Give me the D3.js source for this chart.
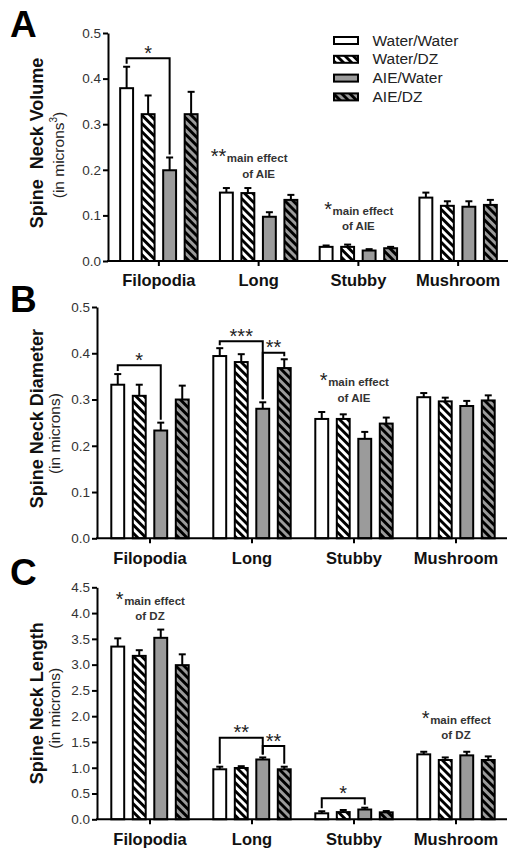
<!DOCTYPE html>
<html><head><meta charset="utf-8">
<script src="https://cdn.jsdelivr.net/npm/d3@7"></script>
<style>body{margin:0;background:#fff}svg{display:block;font-family:Arial,"Liberation Sans",Helvetica,sans-serif}</style>
</head><body><svg id="chart" width="522" height="860"></svg>
<script>
// ---------------- DATA ----------------
const categories = ["Filopodia", "Long", "Stubby", "Mushroom"];
const series = ["Water/Water", "Water/DZ", "AIE/Water", "AIE/DZ"];

// Panel A: spine neck volume (rows = categories, columns = series)
const volumeMean = [[0.379, 0.322, 0.199, 0.322], [0.150, 0.149, 0.097, 0.134], [0.031, 0.031, 0.023, 0.028], [0.139, 0.121, 0.119, 0.123]];
const volumeSem  = [[0.047, 0.041, 0.028, 0.049], [0.010, 0.011, 0.010, 0.011], [0.003, 0.005, 0.003, 0.003], [0.011, 0.010, 0.012, 0.011]];
// Panel B: spine neck diameter
const diameterMean = [[0.332, 0.308, 0.233, 0.300], [0.394, 0.381, 0.280, 0.368], [0.258, 0.258, 0.215, 0.248], [0.305, 0.296, 0.286, 0.298]];
const diameterSem  = [[0.023, 0.024, 0.017, 0.030], [0.017, 0.017, 0.014, 0.019], [0.015, 0.010, 0.015, 0.013], [0.009, 0.008, 0.011, 0.011]];
// Panel C: spine neck length
const lengthMean = [[3.35, 3.17, 3.52, 2.99], [0.97, 0.995, 1.16, 0.97], [0.116, 0.14, 0.19, 0.135], [1.26, 1.15, 1.24, 1.15]];
const lengthSem  = [[0.16, 0.11, 0.16, 0.21], [0.05, 0.035, 0.04, 0.05], [0.04, 0.04, 0.035, 0.025], [0.05, 0.05, 0.07, 0.07]];

const ticksAB = [0, 0.1, 0.2, 0.3, 0.4, 0.5];
const ticksC = [0, 0.5, 1.0, 1.5, 2.0, 2.5, 3.0, 3.5, 4.0, 4.5];

// significance brackets between two series within a category
const brackets = [
  {panel: "A", category: "Filopodia", from: 0, to: 2, y: 0.4445, stars: "*"},
  {panel: "B", category: "Filopodia", from: 0, to: 2, y: 0.374, stars: "*"},
  {panel: "B", category: "Long", from: 0, to: 2, y: 0.426, stars: "***"},
  {panel: "B", category: "Long", from: 2, to: 3, y: 0.401, stars: "**"},
  {panel: "C", category: "Long", from: 0, to: 2, y: 1.58, stars: "**"},
  {panel: "C", category: "Long", from: 2, to: 3, y: 1.42, stars: "**"},
  {panel: "C", category: "Stubby", from: 0, to: 2, y: 0.41, stars: "*"}
];
// main-effect notes
const mainEffects = [
  {panel: "A", category: "Long", stars: "**", factor: "AIE", y: 0.217},
  {panel: "A", category: "Stubby", stars: "*", factor: "AIE", y: 0.101},
  {panel: "B", category: "Stubby", stars: "*", factor: "AIE", y: 0.329},
  {panel: "C", category: "Filopodia", stars: "*", factor: "DZ", y: 4.16},
  {panel: "C", category: "Mushroom", stars: "*", factor: "DZ", y: 1.85}
];

// ---------------- DRAWING ----------------
const svg = d3.select("#chart");
const GRAY = "#9b9b9b";

const defs = svg.append("defs");
function hatch(id, bg) {
  const p = defs.append("pattern").attr("id", id).attr("patternUnits", "userSpaceOnUse")
    .attr("width", 5.8).attr("height", 5.8).attr("patternTransform", "rotate(-45)");
  p.append("rect").attr("width", 5.8).attr("height", 5.8).attr("fill", bg);
  p.append("rect").attr("width", 2.9).attr("height", 5.8).attr("fill", "#000");
}
hatch("hatchW", "#fff");
hatch("hatchG", GRAY);
const fills = ["#fff", "url(#hatchW)", GRAY, "url(#hatchG)"];

const panels = {
  A: {letter: "A", letterY: 37, top: 33, bottom: 261, axisX: 108, x0: 109, x1: 508, max: 0.5, ticks: ticksAB,
      mean: volumeMean, sem: volumeSem, title: "Spine  Neck Volume", sub: "(in microns", sup: "3", subX: 64, titleDy: -4, subDy: 8},
  B: {letter: "B", letterY: 312, top: 307, bottom: 538.3, axisX: 97, x0: 99, x1: 507, max: 0.5, ticks: ticksAB,
      mean: diameterMean, sem: diameterSem, title: "Spine Neck Diameter", sub: "(in microns)", sup: null, subX: 60, titleDy: -4, subDy: 11},
  C: {letter: "C", letterY: 585, top: 587.3, bottom: 819.3, axisX: 97, x0: 99, x1: 507, max: 4.5, ticks: ticksC,
      mean: lengthMean, sem: lengthSem, title: "Spine Neck Length", sub: "(in microns)", sup: null, subX: 60, titleDy: 0, subDy: 5}
};

Object.values(panels).forEach(P => {
  P.x = d3.scaleBand().domain(categories).range([P.x0, P.x1]).padding(0);
  P.xs = d3.scaleBand().domain(series).range([-43, 43]).paddingInner(0.4).paddingOuter(0.2);
  P.y = d3.scaleLinear().domain([0, P.max]).range([P.bottom, P.top]);
  const g = svg.append("g");
  const cx = c => P.x(c) + P.x.bandwidth() / 2;

  // bars
  categories.forEach((c, ci) => {
    series.forEach((s, si) => {
      const v = P.mean[ci][si], e = P.sem[ci][si];
      const bx = cx(c) + P.xs(s);
      const bw = P.xs.bandwidth();
      g.append("rect").attr("x", bx).attr("y", P.y(v)).attr("width", bw).attr("height", P.y(0) - P.y(v))
        .attr("fill", fills[si]).attr("stroke", "#000").attr("stroke-width", 2);
      const mx = bx + bw / 2;
      g.append("line").attr("x1", mx).attr("x2", mx).attr("y1", P.y(v)).attr("y2", P.y(v + e))
        .attr("stroke", "#000").attr("stroke-width", 2);
      g.append("line").attr("x1", mx - 3.5).attr("x2", mx + 3.5).attr("y1", P.y(v + e)).attr("y2", P.y(v + e))
        .attr("stroke", "#000").attr("stroke-width", 2);
    });
  });

  // y axis
  const ya = g.append("g").attr("transform", `translate(${P.axisX},0)`)
    .call(d3.axisLeft(P.y).tickValues(P.ticks).tickFormat(d3.format(".1f")).tickSize(5).tickSizeOuter(0).tickPadding(2));
  ya.select(".domain").attr("stroke-width", 2);
  ya.selectAll(".tick line").attr("stroke-width", 2);
  ya.selectAll(".tick text").attr("font-size", 13.5).attr("fill", "#333").attr("font-family", "Arial, 'Liberation Sans', sans-serif");

  // x axis
  const xa = g.append("g").attr("transform", `translate(0,${P.bottom})`)
    .call(d3.axisBottom(P.x).tickSize(5).tickSizeOuter(0).tickPadding(8.5));
  xa.select(".domain").remove();
  xa.selectAll(".tick line").attr("stroke-width", 2);
  xa.selectAll(".tick text").attr("font-size", 16.5).attr("font-weight", "bold").attr("fill", "#111")
    .attr("font-family", "Arial, 'Liberation Sans', sans-serif");
  g.append("line").attr("x1", P.axisX - 1).attr("x2", P.x1).attr("y1", P.bottom).attr("y2", P.bottom)
    .attr("stroke", "#000").attr("stroke-width", 2);

  // titles
  const mid = (P.top + P.bottom) / 2;
  g.append("text").attr("transform", `translate(43,${mid + P.titleDy}) rotate(-90)`).attr("text-anchor", "middle")
    .attr("font-size", 18).attr("font-weight", "bold").attr("fill", "#111").style("white-space", "pre").text(P.title);
  const st = g.append("text").attr("transform", `translate(${P.subX},${mid + P.subDy}) rotate(-90)`).attr("text-anchor", "middle")
    .attr("font-size", 15.5).attr("fill", "#222");
  st.append("tspan").text(P.sub);
  if (P.sup) {
    st.append("tspan").attr("font-size", 10).attr("dy", -7).text(P.sup);
    st.append("tspan").attr("dy", 7).text(")");
  }
  // panel letter
  g.append("text").attr("x", 10).attr("y", P.letterY).attr("font-size", 37).attr("font-weight", "bold").attr("fill", "#000").text(P.letter);
});

// brackets
brackets.forEach(b => {
  const P = panels[b.panel];
  const ci = categories.indexOf(b.category);
  const c = P.x(b.category) + P.x.bandwidth() / 2;
  const bw = P.xs.bandwidth();
  const xA = c + P.xs(series[b.from]) + bw / 2, xB = c + P.xs(series[b.to]) + bw / 2;
  const yL = P.y(b.y);
  const endA = P.y(P.mean[ci][b.from] + P.sem[ci][b.from]) - 3;
  const endB = P.y(P.mean[ci][b.to] + P.sem[ci][b.to]) - 3;
  svg.append("path").attr("d", `M${xA},${endA}V${yL}H${xB}V${endB}`)
    .attr("fill", "none").attr("stroke", "#000").attr("stroke-width", 2);
  svg.append("text").attr("x", (xA + xB) / 2).attr("y", yL + 1.5).attr("text-anchor", "middle")
    .attr("font-size", 20).attr("fill", "#222").text(b.stars);
});

// main effect notes
mainEffects.forEach(m => {
  const P = panels[m.panel];
  const c = P.x(m.category) + P.x.bandwidth() / 2;
  const by = P.y(m.y);
  const dx = m.stars.length === 1 ? 4.5 : -1.5;
  const t = svg.append("text").attr("x", c + dx).attr("y", by).attr("text-anchor", "middle")
    .attr("font-size", 11.5).attr("font-weight", "bold").attr("fill", "#333").text("main effect");
  const w = t.node().getComputedTextLength();
  svg.append("text").attr("x", c + dx - w / 2 - 0.5).attr("y", by + 1).attr("text-anchor", "end")
    .attr("font-size", 20).attr("fill", "#222").text(m.stars);
  svg.append("text").attr("x", c).attr("y", by + 15.5).attr("text-anchor", "middle")
    .attr("font-size", 11.5).attr("font-weight", "bold").attr("fill", "#333").text("of " + m.factor);
});

// legend
const lg = svg.append("g");
series.forEach((s, i) => {
  const yy = 40.5 + i * 18.8;
  lg.append("rect").attr("x", 334).attr("y", yy - 3.5).attr("width", 24).attr("height", 7)
    .attr("fill", fills[i]).attr("stroke", "#000").attr("stroke-width", 2);
  lg.append("text").attr("x", 372.5).attr("y", yy + 5).attr("font-size", 15.5).attr("fill", "#222").text(s);
});
</script></body></html>
